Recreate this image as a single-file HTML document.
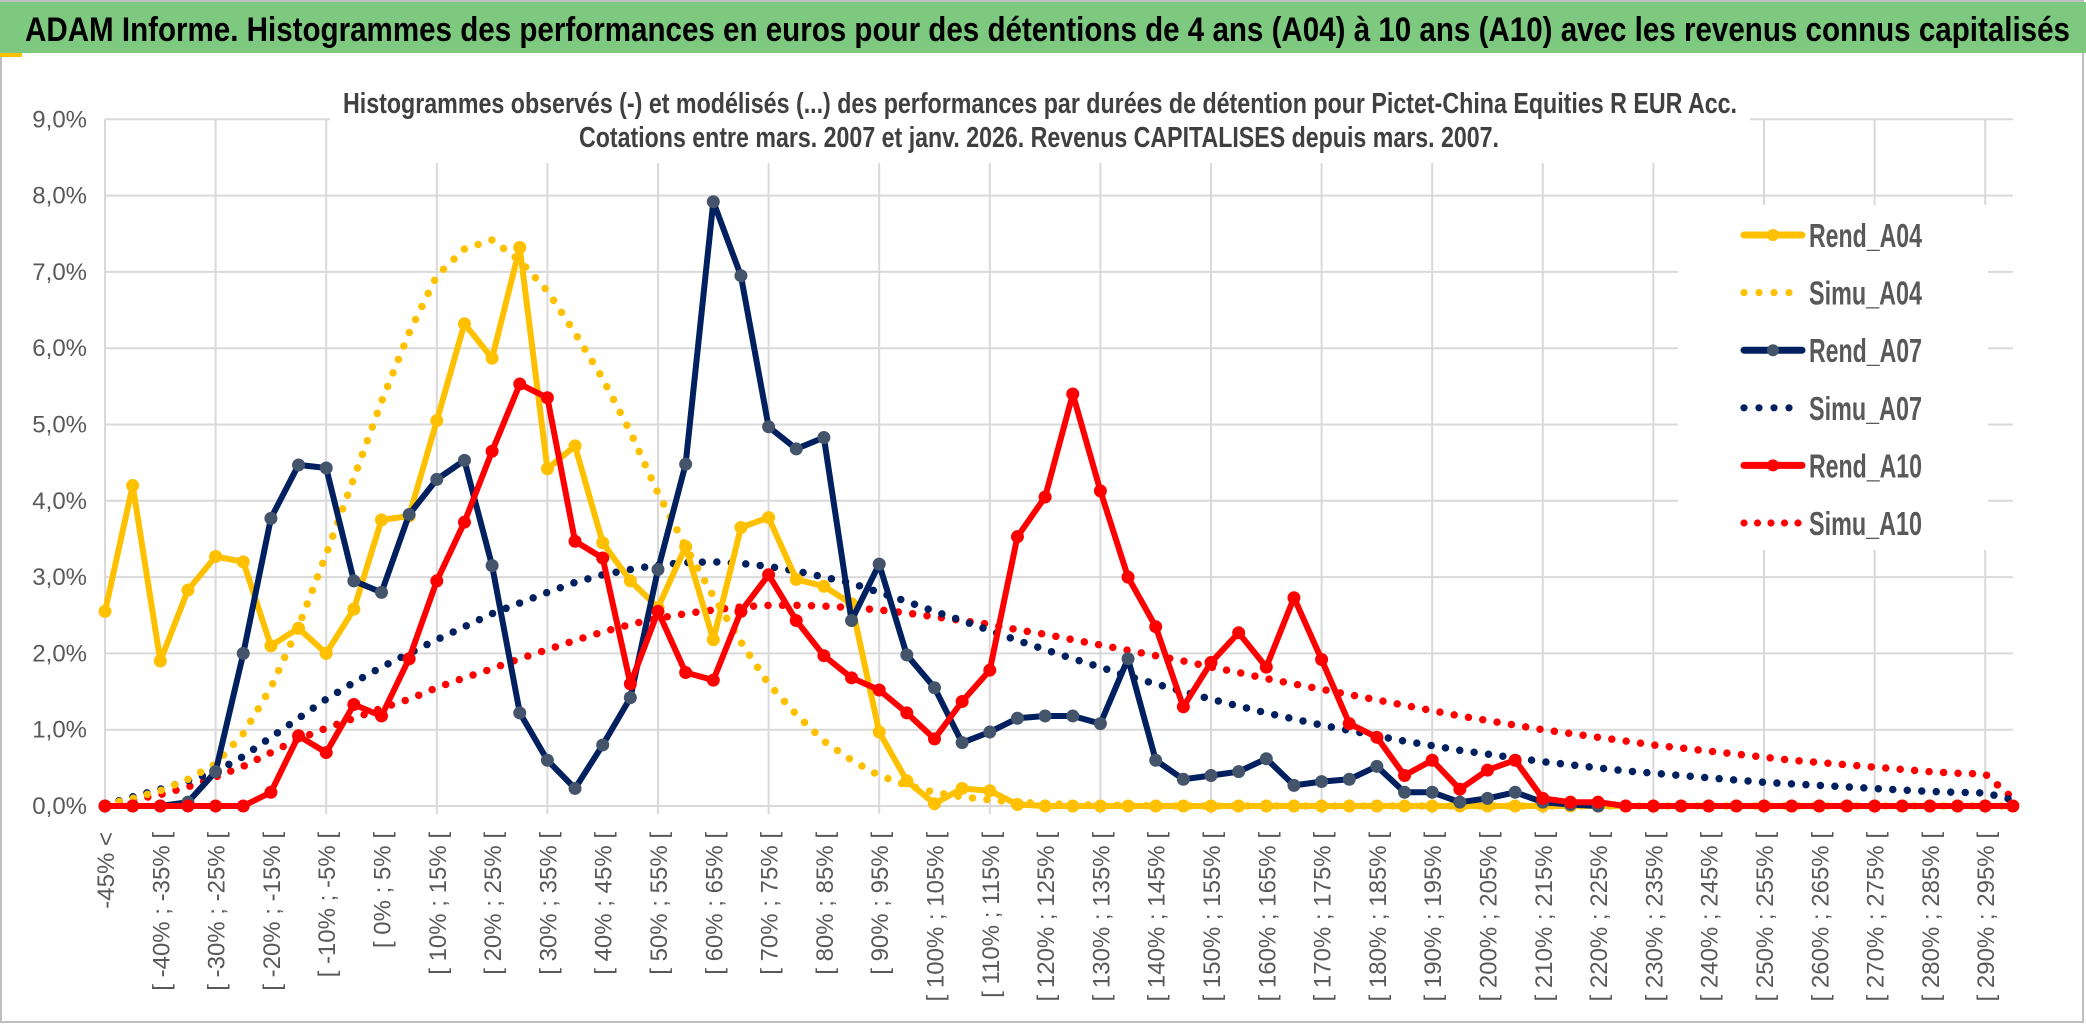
<!DOCTYPE html>
<html><head><meta charset="utf-8"><style>
html,body{margin:0;padding:0;background:#fff;}
svg{display:block;}
</style></head><body>
<svg id="chart" width="2086" height="1033" viewBox="0 0 2086 1033" xmlns="http://www.w3.org/2000/svg">
<rect x="0" y="0" width="2086" height="1033" fill="#fff"/>
<rect x="1" y="1" width="2082" height="1021" fill="none" stroke="#bfbfbf" stroke-width="2"/>
<rect x="0" y="2" width="2086" height="51" fill="#7dc97f"/>
<rect x="0" y="53" width="22" height="4" fill="#ffc000"/>
<text x="25" y="41" font-family="'Liberation Sans Narrow','Liberation Sans',sans-serif" font-weight="bold" font-size="34" fill="#000" textLength="2045" lengthAdjust="spacingAndGlyphs">ADAM Informe. Histogrammes des performances en euros pour des détentions de 4 ans (A04) à 10 ans (A10) avec les revenus connus capitalisés</text>
<g id="grid"></g>
<rect x="330" y="75" width="1420" height="88" fill="#fff"/>
<text x="343" y="113" font-family="'Liberation Sans Narrow','Liberation Sans',sans-serif" font-size="29" font-weight="600" fill="#404040" textLength="1394" lengthAdjust="spacingAndGlyphs">Histogrammes observés (-) et modélisés (...) des performances par durées de détention pour Pictet-China Equities R EUR Acc.</text>
<text x="579" y="147" font-family="'Liberation Sans Narrow','Liberation Sans',sans-serif" font-size="29" font-weight="600" fill="#404040" textLength="920" lengthAdjust="spacingAndGlyphs">Cotations entre mars. 2007 et janv. 2026. Revenus CAPITALISES depuis mars. 2007.</text>
<g id="yaxis"></g>
<g id="xaxis"></g>
<g id="series"></g>
<g id="legend"></g>
</svg>
<script>
const categories = ["-45% <","[ -45% ; -40% [","[ -40% ; -35% [","[ -35% ; -30% [","[ -30% ; -25% [","[ -25% ; -20% [","[ -20% ; -15% [","[ -15% ; -10% [","[ -10% ; -5% [","[ -5% ; 0% [","[ 0% ; 5% [","[ 5% ; 10% [","[ 10% ; 15% [","[ 15% ; 20% [","[ 20% ; 25% [","[ 25% ; 30% [","[ 30% ; 35% [","[ 35% ; 40% [","[ 40% ; 45% [","[ 45% ; 50% [","[ 50% ; 55% [","[ 55% ; 60% [","[ 60% ; 65% [","[ 65% ; 70% [","[ 70% ; 75% [","[ 75% ; 80% [","[ 80% ; 85% [","[ 85% ; 90% [","[ 90% ; 95% [","[ 95% ; 100% [","[ 100% ; 105% [","[ 105% ; 110% [","[ 110% ; 115% [","[ 115% ; 120% [","[ 120% ; 125% [","[ 125% ; 130% [","[ 130% ; 135% [","[ 135% ; 140% [","[ 140% ; 145% [","[ 145% ; 150% [","[ 150% ; 155% [","[ 155% ; 160% [","[ 160% ; 165% [","[ 165% ; 170% [","[ 170% ; 175% [","[ 175% ; 180% [","[ 180% ; 185% [","[ 185% ; 190% [","[ 190% ; 195% [","[ 195% ; 200% [","[ 200% ; 205% [","[ 205% ; 210% [","[ 210% ; 215% [","[ 215% ; 220% [","[ 220% ; 225% [","[ 225% ; 230% [","[ 230% ; 235% [","[ 235% ; 240% [","[ 240% ; 245% [","[ 245% ; 250% [","[ 250% ; 255% [","[ 255% ; 260% [","[ 260% ; 265% [","[ 265% ; 270% [","[ 270% ; 275% [","[ 275% ; 280% [","[ 280% ; 285% [","[ 285% ; 290% [","[ 290% ; 295% [","[ 295% ; 300% ["];
const yTicks = [0,1,2,3,4,5,6,7,8,9];
const yTickLabels = ["0,0%","1,0%","2,0%","3,0%","4,0%","5,0%","6,0%","7,0%","8,0%","9,0%"];
const rendA04 = [2.55,4.2,1.9,2.83,3.27,3.2,2.1,2.33,2.0,2.58,3.75,3.8,5.05,6.32,5.87,7.32,4.42,4.72,3.45,2.95,2.6,3.4,2.18,3.65,3.78,2.97,2.88,2.65,0.97,0.33,0.03,0.23,0.2,0.02,0,0,0,0,0,0,0,0,0,0,0,0,0,0,0,0,0,0,0,0,0,0,0,0,0,0,0,0,0,0,0,0,0,0,0,0];
const simuA04 = [0.02,0.1,0.2,0.35,0.55,0.95,1.55,2.35,3.3,4.3,5.3,6.2,6.95,7.3,7.42,7.15,6.75,6.2,5.6,4.9,4.1,3.4,2.75,2.15,1.6,1.2,0.85,0.6,0.4,0.27,0.18,0.12,0.08,0.05,0.03,0.02,0.01,0.01,0,0,0,0,0,0,0,0,0,0,0,0,0,0,0,0,0,0,0,0,0,0,0,0,0,0,0,0,0,0,0,0];
const rendA07 = [0,0,0,0.05,0.45,2.0,3.77,4.47,4.43,2.95,2.8,3.82,4.28,4.53,3.15,1.22,0.6,0.23,0.8,1.42,3.1,4.48,7.92,6.95,4.97,4.68,4.83,2.43,3.17,1.98,1.55,0.83,0.97,1.15,1.18,1.18,1.08,1.93,0.6,0.35,0.4,0.45,0.62,0.27,0.32,0.35,0.52,0.18,0.18,0.05,0.1,0.18,0.05,0.02,0,null,null,null,null,null,null,null,null,null,null,null,null,null,null,null];
const simuA07 = [0.02,0.12,0.22,0.33,0.45,0.65,0.9,1.15,1.4,1.62,1.82,2.0,2.18,2.35,2.52,2.66,2.8,2.93,3.03,3.1,3.16,3.19,3.2,3.18,3.14,3.08,3.0,2.92,2.8,2.68,2.55,2.43,2.3,2.17,2.05,1.93,1.82,1.7,1.6,1.5,1.4,1.31,1.22,1.14,1.06,0.99,0.92,0.85,0.79,0.73,0.68,0.63,0.58,0.54,0.5,0.46,0.43,0.4,0.37,0.34,0.31,0.29,0.27,0.25,0.23,0.21,0.19,0.18,0.17,0.08];
const rendA10 = [0,0,0,0,0,0,0.18,0.92,0.7,1.33,1.18,1.93,2.95,3.72,4.65,5.53,5.35,3.47,3.25,1.6,2.55,1.75,1.65,2.55,3.03,2.43,1.97,1.68,1.52,1.22,0.88,1.37,1.78,3.53,4.05,5.4,4.13,3.0,2.35,1.3,1.88,2.27,1.82,2.73,1.92,1.08,0.9,0.4,0.6,0.22,0.47,0.6,0.1,0.05,0.05,0,0,0,0,0,0,0,0,0,0,0,0,0,0,0];
const simuA10 = [0.02,0.08,0.15,0.25,0.38,0.52,0.7,0.88,1.02,1.15,1.28,1.4,1.55,1.68,1.8,1.93,2.05,2.17,2.28,2.38,2.46,2.52,2.57,2.61,2.63,2.63,2.62,2.6,2.57,2.53,2.48,2.43,2.38,2.31,2.25,2.18,2.11,2.04,1.97,1.9,1.82,1.75,1.67,1.6,1.53,1.46,1.39,1.32,1.25,1.18,1.12,1.06,1.0,0.95,0.9,0.85,0.8,0.76,0.72,0.68,0.64,0.6,0.57,0.54,0.51,0.48,0.45,0.43,0.42,0.1];

const NS = "http://www.w3.org/2000/svg";
const X0 = 105, DX = 27.65, Y0 = 806, DY = 76.3;
function xPos(i){ return X0 + i*DX; }
function yPos(v){ return Y0 - v*DY; }
function mk(tag, attrs, parent){ const e=document.createElementNS(NS,tag); for(const k in attrs) e.setAttribute(k,attrs[k]); parent.appendChild(e); return e; }
const xEnd = xPos(categories.length-1);

const grid = document.getElementById('grid');
for (let t=0;t<yTicks.length;t++){
  const l = mk('line',{x1:xPos(0),x2:xEnd,y1:yPos(yTicks[t]),y2:yPos(yTicks[t]),stroke:'#d9d9d9','stroke-width':2},grid);
  
  
}
for (let i=0;i<categories.length;i+=4){
  const l = mk('line',{x1:xPos(i),x2:xPos(i),y1:yPos(9),y2:yPos(0)+8,stroke:'#d9d9d9','stroke-width':2},grid);
  
  
}

const yaxis = document.getElementById('yaxis');
for (let t=0;t<yTicks.length;t++){
  const tx = mk('text',{x:87,y:yPos(yTicks[t])+8,'text-anchor':'end','font-family':"'Liberation Sans Narrow','Liberation Sans',sans-serif",'font-size':24,fill:'#595959'},yaxis);
  tx.textContent = yTickLabels[t];
  
  
}

const xaxis = document.getElementById('xaxis');
for (let i=0;i<categories.length;i+=2){
  const bx = xPos(i)+9, by = 832;
  const tx = mk('text',{x:0,y:0,transform:`translate(${bx},${by}) rotate(-90)`,'text-anchor':'end','font-family':"'Liberation Sans',sans-serif",'font-size':24,fill:'#595959'},xaxis);
  tx.textContent = categories[i];
  
  
}

const seriesG = document.getElementById('series');
function drawLine(vals, color, name, dotted, markerFill){
  let d='', pen=false;
  for (let i=0;i<vals.length;i++){
    if (vals[i]===null){ pen=false; continue; }
    d += (pen?'L':'M') + xPos(i).toFixed(1) + ' ' + yPos(vals[i]).toFixed(1) + ' ';
    pen=true;
  }
  const g = mk('g',{},seriesG);
  
  
  if (dotted){
    const p = mk('path',{d:d,fill:'none',stroke:color,'stroke-width':7.5,'stroke-linecap':'round','stroke-dasharray':'0 14.5'},g);
    
    
  } else {
    const p = mk('path',{d:d,fill:'none',stroke:color,'stroke-width':6,'stroke-linejoin':'round','stroke-linecap':'round'},g);
    
    
    for (let i=0;i<vals.length;i++){
      if (vals[i]===null) continue;
      const c = mk('circle',{cx:xPos(i),cy:yPos(vals[i]),r:6,fill:markerFill,stroke:markerFill,'stroke-width':1},g);
      
      
    }
  }
}
drawLine(simuA10,'#ff0000','simu-a10',true);
drawLine(simuA07,'#002060','simu-a07',true);
drawLine(simuA04,'#ffc000','simu-a04',true);
drawLine(rendA04,'#ffc000','rend-a04',false,'#ffc000');
drawLine(rendA07,'#002060','rend-a07',false,'#44546a');
drawLine(rendA10,'#ff0000','rend-a10',false,'#ff0000');

const legend = document.getElementById('legend');
const legBg = mk('rect',{x:1678,y:205,width:310,height:345,fill:'#fff'},legend);


const legNames = ["Rend_A04","Simu_A04","Rend_A07","Simu_A07","Rend_A10","Simu_A10"];
const legColors = ["#ffc000","#ffc000","#002060","#002060","#ff0000","#ff0000"];
const legMarker = ["#ffc000",null,"#44546a",null,"#ff0000",null];
for (let k=0;k<legNames.length;k++){
  const cy = 235 + k*57.6;
  const g = mk('g',{},legend);
  
  
  if (legMarker[k]){
    mk('line',{x1:1744,x2:1802,y1:cy,y2:cy,stroke:legColors[k],'stroke-width':7,'stroke-linecap':'round'},g);
    mk('circle',{cx:1773,cy:cy,r:6,fill:legMarker[k]},g);
  } else {
    const dots = k===5 ? 5 : 4;
    for (let j=0;j<dots;j++) mk('circle',{cx:1744+j*(k===5?13.5:15),cy:cy,r:3.6,fill:legColors[k]},g);
  }
  const t = mk('text',{x:1809,y:cy+12,'font-family':"'Liberation Sans Narrow','Liberation Sans',sans-serif",'font-size':33,'font-weight':600,fill:'#595959',textLength:113,lengthAdjust:'spacingAndGlyphs'},g);
  t.textContent = legNames[k];
}
</script>
</body></html>
